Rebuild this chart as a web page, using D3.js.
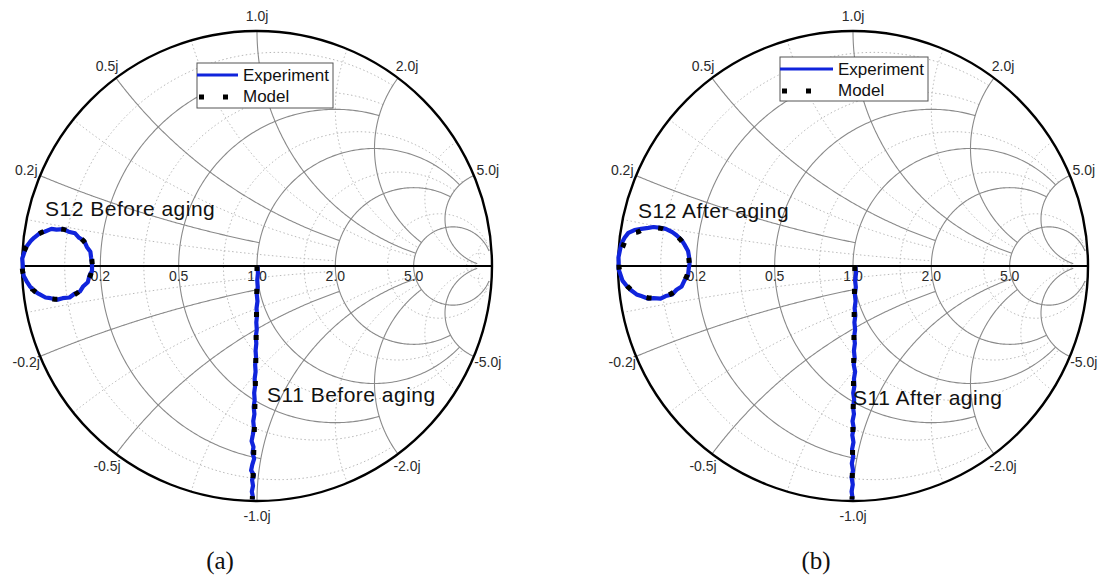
<!DOCTYPE html>
<html>
<head>
<meta charset="utf-8">
<script src="https://cdn.jsdelivr.net/npm/d3@7"></script>
<style>
  body { margin: 0; background: #fff; }
  text { font-family: "Liberation Sans", Arial, sans-serif; }
</style>
</head>
<body>
<svg id="chart" width="1112" height="578"></svg>
<script>
// Smith chart grid: major circles/arcs and the reactance/resistance value where each one stops
const gridValues = [0.2, 0.5, 1.0, 2.0, 5.0];
const gridLimits = [1, 2, 5, 5, 30];
// dotted minor grid
const minorValues = [0.1, 0.35, 0.75, 1.5, 3.5, 17.5];
const minorLimits = [2, 2, 5, 5, 30, 30];

const realTickLabels = ["0.2", "0.5", "1.0", "2.0", "5.0"];
const imagTickLabels = ["0.2j", "0.5j", "1.0j", "2.0j", "5.0j"];
const imagTickLabelsNeg = ["-0.2j", "-0.5j", "-1.0j", "-2.0j", "-5.0j"];

const legendLabels = ["Experiment", "Model"];
const captions = ["(a)", "(b)"];
const traceLabelsBefore = ["S12 Before aging", "S11 Before aging"];
const traceLabelsAfter = ["S12 After aging", "S11 After aging"];

// Reflection coefficient traces [Re, Im]
const expS12Before = [
  [-0.702, 0.010], [-0.706, 0.036], [-0.709, 0.061], [-0.724, 0.081], [-0.735, 0.106],
  [-0.757, 0.120], [-0.774, 0.139], [-0.802, 0.146], [-0.823, 0.157], [-0.853, 0.155],
  [-0.875, 0.158], [-0.904, 0.146], [-0.924, 0.140], [-0.949, 0.120], [-0.963, 0.106],
  [-0.982, 0.081], [-0.989, 0.061], [-0.999, 0.032], [-0.997, 0.008], [-0.996, -0.020],
  [-0.993, -0.041], [-0.978, -0.069], [-0.967, -0.086], [-0.945, -0.108], [-0.928, -0.119],
  [-0.900, -0.134], [-0.879, -0.137], [-0.849, -0.143], [-0.827, -0.137], [-0.798, -0.134],
  [-0.778, -0.119], [-0.753, -0.108], [-0.739, -0.086], [-0.720, -0.069], [-0.713, -0.041],
  [-0.702, -0.020], [-0.702, 0.010]
];
const modelS12Before = [
  [-0.701, 0.008], [-0.706, 0.047], [-0.721, 0.083], [-0.745, 0.114], [-0.776, 0.138],
  [-0.812, 0.153], [-0.851, 0.158], [-0.890, 0.153], [-0.926, 0.138], [-0.957, 0.114],
  [-0.981, 0.083], [-0.996, 0.047], [-0.999, 0.008], [-0.996, -0.031], [-0.981, -0.067],
  [-0.957, -0.098], [-0.926, -0.122], [-0.890, -0.137], [-0.851, -0.142], [-0.812, -0.137],
  [-0.776, -0.122], [-0.745, -0.098], [-0.721, -0.067], [-0.706, -0.031], [-0.701, 0.008]
];
const expS11Before = [
  [0.002, 0.000], [0.004, -0.030], [0.001, -0.060], [0.003, -0.090], [-0.001, -0.120],
  [0.002, -0.150], [-0.002, -0.180], [0.000, -0.210], [-0.003, -0.240], [-0.001, -0.270],
  [-0.005, -0.300], [-0.003, -0.330], [-0.006, -0.360], [-0.004, -0.390], [-0.008, -0.420],
  [-0.006, -0.450], [-0.010, -0.480], [-0.008, -0.510], [-0.012, -0.540], [-0.010, -0.570],
  [-0.014, -0.600], [-0.011, -0.630], [-0.016, -0.660], [-0.013, -0.690], [-0.018, -0.720],
  [-0.023, -0.745], [-0.015, -0.770], [-0.019, -0.795], [-0.012, -0.820], [-0.020, -0.845],
  [-0.025, -0.870], [-0.013, -0.890], [-0.021, -0.910], [-0.017, -0.935], [-0.022, -0.960],
  [-0.018, -0.980], [-0.020, -0.993]
];
const modelS11Before = [
  [0.000, 0.000], [-0.002, -0.200], [-0.005, -0.400], [-0.009, -0.600], [-0.014, -0.800], [-0.020, -0.993]
];

const expS12After = [
  [-0.695, 0.013], [-0.698, 0.041], [-0.702, 0.064], [-0.717, 0.091], [-0.729, 0.110],
  [-0.751, 0.131], [-0.769, 0.144], [-0.797, 0.158], [-0.819, 0.162], [-0.849, 0.166],
  [-0.871, 0.162], [-0.901, 0.158], [-0.930, 0.153], [-0.956, 0.141], [-0.972, 0.120],
  [-0.986, 0.094], [-0.992, 0.066], [-0.998, 0.037], [-0.997, 0.014], [-0.998, -0.012],
  [-0.988, -0.041], [-0.981, -0.062], [-0.961, -0.087], [-0.947, -0.101], [-0.921, -0.121],
  [-0.901, -0.128], [-0.871, -0.139], [-0.849, -0.137], [-0.819, -0.139], [-0.797, -0.128],
  [-0.769, -0.121], [-0.751, -0.101], [-0.729, -0.087], [-0.717, -0.061], [-0.702, -0.041],
  [-0.699, -0.011], [-0.695, 0.013]
];
const modelS12After = [
  [-0.697, 0.013], [-0.702, 0.052], [-0.717, 0.088], [-0.741, 0.119], [-0.772, 0.143],
  [-0.808, 0.158], [-0.847, 0.163], [-0.886, 0.158], [-0.922, 0.143], [-0.956, 0.139],
  [-0.977, 0.088], [-0.992, 0.052], [-0.996, 0.013], [-0.992, -0.026], [-0.977, -0.062],
  [-0.953, -0.093], [-0.922, -0.117], [-0.886, -0.132], [-0.847, -0.137], [-0.808, -0.132],
  [-0.772, -0.117], [-0.741, -0.093], [-0.717, -0.062], [-0.702, -0.026], [-0.697, 0.013]
];
const expS11After = [
  [0.010, 0.000], [0.013, -0.030], [0.009, -0.060], [0.012, -0.090], [0.008, -0.120],
  [0.011, -0.150], [0.007, -0.180], [0.010, -0.210], [0.006, -0.240], [0.009, -0.270],
  [0.005, -0.300], [0.008, -0.330], [0.004, -0.360], [0.007, -0.390], [0.003, -0.420],
  [0.009, -0.450], [0.004, -0.480], [0.006, -0.510], [0.001, -0.540], [0.005, -0.570],
  [0.000, -0.600], [0.004, -0.630], [-0.002, -0.660], [0.003, -0.690], [-0.003, -0.720],
  [0.002, -0.750], [-0.004, -0.780], [0.001, -0.810], [-0.005, -0.840], [0.000, -0.870],
  [-0.006, -0.900], [-0.001, -0.930], [-0.006, -0.960], [-0.003, -0.980], [-0.005, -0.994]
];
const modelS11After = [
  [0.008, 0.000], [0.005, -0.200], [0.003, -0.400], [0.001, -0.600], [-0.002, -0.800], [-0.004, -0.994]
];

// Panel layout
const panels = [
  {
    cx: 257, cy: 266, R: 235,
    traces: [[expS12Before, modelS12Before], [expS11Before, modelS11Before]],
    labels: traceLabelsBefore,
    labelPos: [[45, 216], [267, 402]],
    legend: { x: 197, y: 63, w: 136, h: 45, line: 41, dots: 30, textX: 243 },
    caption: captions[0], captionX: 220
  },
  {
    cx: 853, cy: 266, R: 235,
    traces: [[expS12After, modelS12After], [expS11After, modelS11After]],
    labels: traceLabelsAfter,
    labelPos: [[638, 218], [853, 405]],
    legend: { x: 780, y: 57, w: 148, h: 44, line: 53, dots: 36, textX: 838 },
    caption: captions[1], captionX: 816
  }
];

const expStyle = { color: "#1024dc", width: 4.2 };
const modelStyle = { color: "#000", width: 5, dash: "5,18" };

function gamma(r, x) {
  const d = (r + 1) * (r + 1) + x * x;
  return [(r * r - 1 + x * x) / d, 2 * x / d];
}

// constant-resistance circle, limited to |x| <= lim
function resistanceArc(r, lim, n = 260) {
  const c = r / (1 + r), rad = 1 / (1 + r);
  const e = gamma(r, lim);
  const a = Math.atan2(e[1], e[0] - c);
  const pts = [];
  for (let i = 0; i <= n; i++) {
    const t = a + (2 * Math.PI - 2 * a) * i / n;
    pts.push([c + rad * Math.cos(t), rad * Math.sin(t)]);
  }
  return pts;
}

// constant-reactance arc, from the rim to resistance lim
function reactanceArc(x, lim, n = 200) {
  const cyy = 1 / x, rad = Math.abs(1 / x);
  const s = gamma(0, x), e = gamma(lim, x);
  const a0 = Math.atan2(s[1] - cyy, s[0] - 1);
  const a1 = Math.atan2(e[1] - cyy, e[0] - 1);
  let d = a1 - a0;
  while (d > Math.PI) d -= 2 * Math.PI;
  while (d < -Math.PI) d += 2 * Math.PI;
  const pts = [];
  for (let i = 0; i <= n; i++) {
    const t = a0 + d * i / n;
    pts.push([1 + rad * Math.cos(t), cyy + rad * Math.sin(t)]);
  }
  return pts;
}

const svg = d3.select("#chart");

panels.forEach((p, pi) => {
  const xs = d3.scaleLinear().domain([-1, 1]).range([p.cx - p.R, p.cx + p.R]);
  const ys = d3.scaleLinear().domain([-1, 1]).range([p.cy + p.R, p.cy - p.R]);
  const line = d3.line().x(d => xs(d[0])).y(d => ys(d[1]));
  const smooth = d3.line().x(d => xs(d[0])).y(d => ys(d[1])).curve(d3.curveCatmullRom);
  const g = svg.append("g");

  const clipId = "clip" + pi;
  svg.append("clipPath").attr("id", clipId)
    .append("circle").attr("cx", p.cx).attr("cy", p.cy).attr("r", p.R);

  const grid = g.append("g").attr("clip-path", `url(#${clipId})`).attr("fill", "none");

  // minor grid
  minorValues.forEach((v, i) => {
    grid.append("path").attr("d", line(resistanceArc(v, minorLimits[i])))
      .attr("stroke", "#b8b8b8").attr("stroke-width", 1).attr("stroke-dasharray", "1.5,2.5");
    [v, -v].forEach(xv => {
      grid.append("path").attr("d", line(reactanceArc(xv, minorLimits[i])))
        .attr("stroke", "#b8b8b8").attr("stroke-width", 1).attr("stroke-dasharray", "1.5,2.5");
    });
  });

  // major grid
  gridValues.forEach((v, i) => {
    grid.append("path").attr("d", line(resistanceArc(v, gridLimits[i])))
      .attr("stroke", "#8a8a8a").attr("stroke-width", 1.1);
    [v, -v].forEach(xv => {
      grid.append("path").attr("d", line(reactanceArc(xv, gridLimits[i])))
        .attr("stroke", "#8a8a8a").attr("stroke-width", 1.1);
    });
  });

  // real axis
  g.append("line")
    .attr("x1", xs(-1)).attr("x2", xs(1)).attr("y1", ys(0)).attr("y2", ys(0))
    .attr("stroke", "#000").attr("stroke-width", 2);

  // outer rim
  g.append("circle").attr("cx", xs(0)).attr("cy", ys(0)).attr("r", xs(1) - xs(0))
    .attr("fill", "none").attr("stroke", "#000").attr("stroke-width", 2.4);

  // real-axis tick labels
  gridValues.forEach((v, i) => {
    const gm = gamma(v, 0);
    g.append("text").attr("x", xs(gm[0])).attr("y", ys(0) + 10)
      .attr("text-anchor", "middle").attr("dominant-baseline", "central")
      .attr("font-size", 14).attr("fill", "#2a2a2a").text(realTickLabels[i]);
  });

  // rim reactance tick labels
  gridValues.forEach((v, i) => {
    [[v, imagTickLabels[i]], [-v, imagTickLabelsNeg[i]]].forEach(([xv, lab]) => {
      const gm = gamma(0, xv);
      const ang = Math.atan2(gm[1], gm[0]);
      const k = 1 + 15 / p.R;
      g.append("text").attr("x", xs(Math.cos(ang) * k)).attr("y", ys(Math.sin(ang) * k))
        .attr("text-anchor", "middle").attr("dominant-baseline", "central")
        .attr("font-size", 14).attr("fill", "#2a2a2a").text(lab);
    });
  });

  // traces: measured (blue) under the model (black dotted)
  p.traces.forEach(([exp, model]) => {
    g.append("path").attr("d", line(exp)).attr("fill", "none")
      .attr("stroke", expStyle.color).attr("stroke-width", expStyle.width)
      .attr("stroke-linejoin", "round");
    g.append("path").attr("d", smooth(model)).attr("fill", "none")
      .attr("stroke", modelStyle.color).attr("stroke-width", modelStyle.width)
      .attr("stroke-dasharray", modelStyle.dash);
  });

  // trace annotations
  p.labels.forEach((lab, i) => {
    g.append("text").attr("x", p.labelPos[i][0]).attr("y", p.labelPos[i][1])
      .attr("font-size", 21).attr("letter-spacing", 0.5).attr("fill", "#111").text(lab);
  });

  // legend
  const L = p.legend;
  const lg = g.append("g");
  lg.append("rect").attr("x", L.x).attr("y", L.y).attr("width", L.w).attr("height", L.h)
    .attr("fill", "#fff").attr("stroke", "#555").attr("stroke-width", 1);
  lg.append("line").attr("x1", L.x).attr("x2", L.x + L.line)
    .attr("y1", L.y + 12).attr("y2", L.y + 12)
    .attr("stroke", expStyle.color).attr("stroke-width", 3);
  lg.append("line").attr("x1", L.x + 2).attr("x2", L.x + 2 + L.dots)
    .attr("y1", L.y + 34).attr("y2", L.y + 34)
    .attr("stroke", modelStyle.color).attr("stroke-width", modelStyle.width)
    .attr("stroke-dasharray", "5,19");
  legendLabels.forEach((lab, i) => {
    lg.append("text").attr("x", L.textX).attr("y", L.y + 18 + i * 21)
      .attr("font-size", 17).attr("fill", "#111").text(lab);
  });

  // panel caption
  svg.append("text").attr("x", p.captionX).attr("y", 569)
    .attr("text-anchor", "middle").attr("font-size", 25)
    .style("font-family", "'Liberation Serif', 'Times New Roman', serif")
    .attr("fill", "#111").text(p.caption);
});
</script>
</body>
</html>
